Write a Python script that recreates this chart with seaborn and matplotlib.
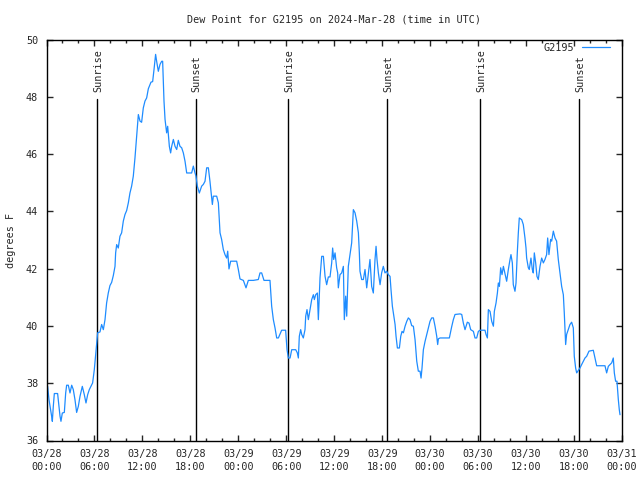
import matplotlib
matplotlib.use("Agg")
import matplotlib.pyplot as plt
from matplotlib.ticker import MultipleLocator
import seaborn as sns
import pandas as pd

# hours since 2024-03-28 00:00 UTC
hours = [0.14, 0.31, 0.48, 0.64, 0.73, 0.85, 0.98, 1.39, 1.56, 1.69, 1.81, 1.98, 2.23, 2.40, 2.52, 2.73,
         2.94, 3.15, 3.35, 3.56, 3.77, 3.98, 4.19, 4.48, 4.73, 4.94, 5.15, 5.36, 5.56, 5.77, 5.98, 6.15,
         6.27, 6.40, 6.69, 6.90, 7.11, 7.32, 7.52, 7.73, 7.94, 8.15, 8.36, 8.57, 8.65, 8.78, 8.98, 9.19,
         9.40, 9.61, 9.82, 10.03, 10.24, 10.44, 10.65, 10.86, 11.07, 11.28, 11.40, 11.49, 11.70, 11.90,
         12.11, 12.32, 12.53, 12.74, 13.07, 13.28, 13.45, 13.65, 13.78, 13.99, 14.20, 14.41, 14.53,
         14.70, 14.83, 15.03, 15.16, 15.37, 15.53, 15.66, 15.87, 16.08, 16.29, 16.49, 16.70, 16.91, 17.12,
         17.33, 17.54, 18.16, 18.37, 18.58, 18.70, 18.87, 19.12, 19.41, 19.62, 19.83, 20.04, 20.25, 20.45,
         20.58, 20.75, 20.87, 21.08, 21.29, 21.50, 21.71, 21.91, 22.12, 22.33, 22.54, 22.67, 22.83, 23.04,
         23.25, 23.79, 24.00, 24.21, 24.63, 24.96, 25.25, 25.88, 26.50, 26.71, 26.92, 27.21, 27.75, 27.96,
         28.17, 28.38, 28.59,
         28.80, 29.01, 29.42, 29.92, 30.09, 30.26, 30.47, 30.68, 31.18, 31.38, 31.51, 31.63, 31.80, 31.93,
         32.13, 32.34, 32.43, 32.59, 32.76, 32.97, 33.18, 33.39, 33.51, 33.68, 33.89, 34.01, 34.09, 34.22,
         34.43, 34.64, 34.85, 35.05, 35.26, 35.47, 35.68, 35.80, 35.93, 36.10, 36.30, 36.43, 36.51, 36.72,
         36.93, 37.14, 37.26, 37.43, 37.56, 37.76, 37.97, 38.18, 38.39, 38.60, 38.81, 39.02, 39.14, 39.22,
         39.43, 39.64, 39.85, 40.06, 40.27, 40.47, 40.68, 40.89, 41.10, 41.23, 41.35, 41.52, 41.73, 41.93,
         42.14, 42.35, 42.56, 42.77, 42.98, 43.10, 43.27,
         43.61, 43.73, 43.90, 44.15, 44.32, 44.48, 44.65, 44.86, 45.07, 45.27, 45.48, 45.69, 45.90, 46.11,
         46.32, 46.52, 46.73, 46.86, 46.98, 47.15, 47.36, 47.57, 47.78, 47.98, 48.19, 48.40, 48.61, 48.82,
         48.94, 49.03, 49.24, 50.40, 50.69, 50.90, 51.11, 51.74, 51.95, 52.15, 52.36, 52.49, 52.65, 52.86,
         53.07, 53.41, 53.61, 53.82, 54.03, 54.24, 54.86, 54.99, 55.16, 55.28, 55.49, 55.70, 55.91, 56.03,
         56.24, 56.41, 56.53, 56.66, 56.82, 56.99, 57.16,
         57.57, 57.78, 57.99, 58.11, 58.28, 58.40, 58.61, 58.74, 58.90, 59.03, 59.15, 59.45, 59.65, 59.86,
         59.99, 60.07, 60.28, 60.40, 60.61, 60.78, 60.90, 61.03, 61.20, 61.36, 61.53, 61.74, 61.95, 62.16,
         62.36, 62.57, 62.70, 62.86, 63.07, 63.20, 63.41, 63.62, 63.82, 64.03, 64.24, 64.45, 64.66, 64.78,
         64.95, 65.07, 65.28, 65.49, 65.70, 65.91, 66.03, 66.20, 66.33, 66.74, 66.95, 67.37, 67.58, 67.87,
         68.41, 68.62, 68.83, 69.87, 70.08, 70.29, 70.50, 70.71, 70.91, 71.04, 71.20, 71.37, 71.54, 71.66,
         71.75]

dew_point = [37.89, 37.43, 37.14, 36.85, 36.67, 37.19, 37.64, 37.64, 37.19, 36.85, 36.67, 36.96, 36.98, 37.66,
             37.93, 37.93, 37.66, 37.93, 37.78, 37.43, 36.98, 37.19, 37.54, 37.89, 37.60, 37.31, 37.60, 37.78,
             37.89, 38.01, 38.47, 39.00, 39.35, 39.76, 39.79, 40.05, 39.87, 40.22, 40.80, 41.15, 41.41, 41.52,
             41.76, 42.08, 42.55, 42.84, 42.72, 43.13, 43.25, 43.66, 43.89, 44.03, 44.30, 44.64, 44.88, 45.23,
             45.87, 46.62, 47.09, 47.38, 47.15, 47.11, 47.61, 47.85, 47.96, 48.28, 48.51, 48.53, 48.95, 49.48,
             49.24, 48.89, 49.13, 49.24, 49.24,
             47.85, 47.21, 46.74, 46.97, 46.27, 46.04, 46.27, 46.51, 46.27, 46.16, 46.48, 46.27, 46.22, 46.04,
             45.75, 45.34, 45.34, 45.58, 45.34, 45.23, 44.88, 44.64, 44.88, 44.94, 45.05, 45.52, 45.52, 45.05,
             44.70, 44.24, 44.53, 44.53, 44.53, 44.30, 43.25, 43.02, 42.67, 42.49, 42.37, 42.61, 41.99, 42.26,
             42.26, 42.26, 41.97, 41.64, 41.59, 41.33, 41.59, 41.59, 41.62, 41.85, 41.85, 41.59, 41.59, 41.59,
             40.69, 40.22, 39.93,
             39.58, 39.58, 39.85, 39.85, 39.17, 38.88, 38.88, 39.17, 39.17, 39.06, 38.88, 39.64, 39.87, 39.70,
             39.58, 39.87, 40.34, 40.57, 40.22, 40.57, 40.92, 41.09, 40.92, 41.09, 41.15, 40.22, 40.80, 41.68,
             42.43, 42.43, 41.73, 41.44, 41.71, 41.71, 42.20, 42.72, 42.32, 42.55, 42.03, 41.85, 41.33, 41.79,
             41.85, 42.08, 40.22, 41.04, 40.34, 42.08, 42.49, 42.90, 44.06, 43.95, 43.66, 43.25, 42.55, 41.91,
             41.62, 41.62, 41.97, 41.33, 41.85, 42.32, 41.38, 41.15, 42.32, 42.78, 42.32, 41.85, 41.44, 41.85,
             42.08, 41.85, 41.91, 41.79, 41.73, 41.27, 40.69,
             40.05, 39.64, 39.23, 39.23, 39.64, 39.81, 39.76, 39.99, 40.16, 40.28, 40.22, 40.01, 39.99, 39.52,
             38.77, 38.42, 38.42, 38.18, 38.53, 39.17, 39.46, 39.70, 39.93, 40.16, 40.28, 40.28, 39.99, 39.64,
             39.35, 39.55, 39.58, 39.58, 39.97, 40.22, 40.40, 40.42, 40.40, 40.10, 39.87, 39.99, 40.13, 40.10,
             39.87, 39.81, 39.58, 39.58, 39.81, 39.85, 39.85, 39.70, 39.58, 40.57, 40.51, 40.16, 39.99, 40.51,
             40.80, 41.15, 41.50, 41.38, 42.03, 41.79, 42.08,
             41.56, 41.97, 42.32, 42.49, 42.20, 41.44, 41.21, 41.50, 42.55, 43.25, 43.77, 43.71, 43.54, 43.07,
             42.72, 42.37, 42.03, 41.97, 42.37, 41.97, 41.85, 42.55, 42.20, 41.73, 41.62, 42.08, 42.37, 42.20,
             42.32, 42.49, 43.07, 42.49, 43.02, 42.96, 43.31, 43.07, 42.96, 42.32, 41.85, 41.38, 41.09, 40.45,
             39.35, 39.70, 39.87, 40.05, 40.13, 39.93, 38.94, 38.53, 38.36, 38.53, 38.65, 38.88, 38.94, 39.12,
             39.15, 38.88, 38.61, 38.61, 38.36, 38.59, 38.65, 38.71, 38.88, 38.36, 38.07, 38.07, 37.43, 37.08,
             36.90]

sunrise_hours = [6.36, 30.25, 54.28]
sunset_hours = [18.70, 42.64, 66.66]

x_tick_hours = [0, 6, 12, 18, 24, 30, 36, 42, 48, 54, 60, 66, 72]
x_tick_labels = ["03/28\n00:00", "03/28\n06:00", "03/28\n12:00", "03/28\n18:00",
                 "03/29\n00:00", "03/29\n06:00", "03/29\n12:00", "03/29\n18:00",
                 "03/30\n00:00", "03/30\n06:00", "03/30\n12:00", "03/30\n18:00",
                 "03/31\n00:00"]
y_ticks = [36, 38, 40, 42, 44, 46, 48, 50]

sns.set_style("ticks")
plt.rcParams["font.family"] = ["DejaVu Sans Mono"]
FS = 7.3

df = pd.DataFrame({"hour": hours, "dew": dew_point})

fig = plt.figure(figsize=(6.4, 4.8), dpi=100)
ax = fig.add_axes([46.5 / 640, 1 - 440.5 / 480, (622 - 46.5) / 640, (440.5 - 39.5) / 480])

sns.lineplot(data=df, x="hour", y="dew", ax=ax, color="#1E8CFF", linewidth=0.9, label="G2195")

for h in sunrise_hours:
    ax.plot([h, h], [36, 47.92], color="black", linewidth=1.0, zorder=1)
    ax.text(h + 0.1, 48.18, "Sunrise", rotation=90, ha="center", va="bottom", fontsize=FS)
for h in sunset_hours:
    ax.plot([h, h], [36, 47.92], color="black", linewidth=1.0, zorder=1)
    ax.text(h + 0.1, 48.18, "Sunset", rotation=90, ha="center", va="bottom", fontsize=FS)

ax.set_xlim(0, 72)
ax.set_ylim(36, 50)
ax.set_xticks(x_tick_hours)
ax.set_xticklabels(x_tick_labels, fontsize=FS, linespacing=1.45)
ax.xaxis.set_minor_locator(MultipleLocator(2))
ax.set_yticks(y_ticks)
ax.set_yticklabels([str(v) for v in y_ticks], fontsize=FS)
ax.tick_params(axis="both", which="major", direction="in", length=4.5, width=1,
               top=True, right=True)
ax.tick_params(axis="x", which="major", pad=6)
ax.tick_params(axis="x", which="minor", direction="in", length=2.5, width=1, top=True)
ax.tick_params(axis="y", which="major", pad=6)
for s in ax.spines.values():
    s.set_linewidth(1)
    s.set_color("black")

ax.set_xlabel("")
ax.set_ylabel("degrees F", fontsize=FS, labelpad=7)
fig.text(0.5 * (46.5 + 622) / 640, 1 - 20 / 480, "Dew Point for G2195 on 2024-Mar-28 (time in UTC)",
         ha="center", va="center", fontsize=FS)

leg = ax.legend(loc="upper right", bbox_to_anchor=(610 / 640, 1 - 43 / 480),
                bbox_transform=fig.transFigure, frameon=False, markerfirst=False,
                borderpad=0, borderaxespad=0, handlelength=2.8, handletextpad=0.7,
                prop={"size": FS, "family": "DejaVu Sans Mono"})

fig.savefig("out.png", dpi=100)
